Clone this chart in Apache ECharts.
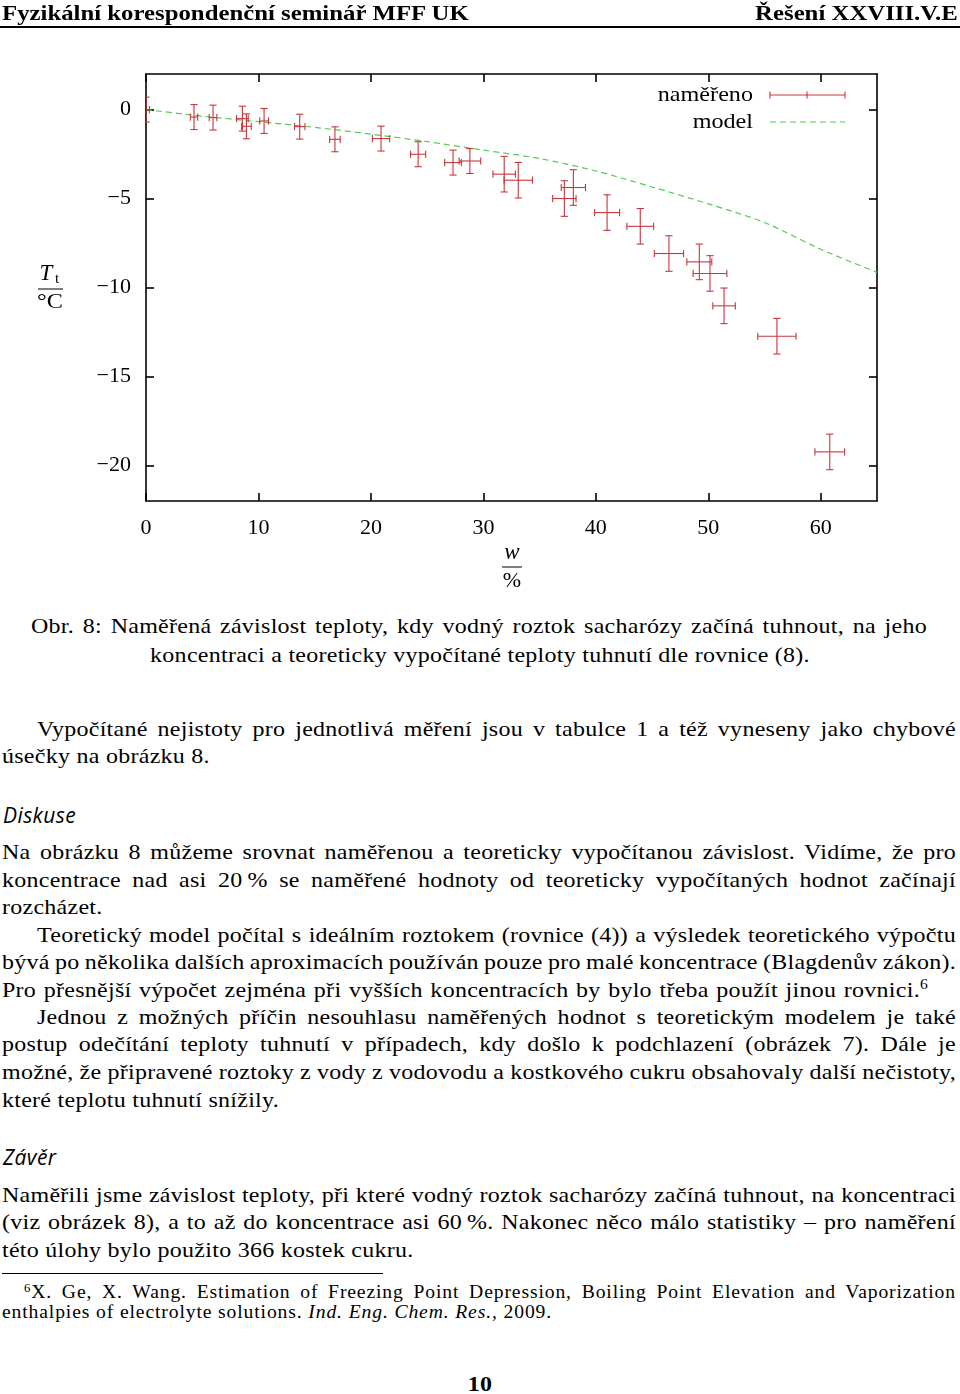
<!DOCTYPE html>
<html>
<head>
<meta charset="utf-8">
<script src="https://cdn.jsdelivr.net/npm/echarts@6/dist/echarts.min.js"></script>
<style>
html,body{margin:0;padding:0;background:#fff;}
body{width:960px;height:1394px;position:relative;overflow:hidden;}
#chart{position:absolute;left:0;top:0;width:960px;height:610px;}
.ln{position:absolute;font-family:'Liberation Serif',serif;font-size:22px;line-height:28px;height:28px;white-space:nowrap;color:#000;letter-spacing:0.25px;transform:scaleX(1.09);transform-origin:0 0;}
.j{text-align:justify;text-align-last:justify;word-spacing:-4px;}
.c{text-align:center;}
.hd{position:absolute;font-family:'Liberation Serif',serif;font-weight:bold;font-size:21px;line-height:28px;white-space:nowrap;transform:scaleX(1.18);}
.h{position:absolute;font-family:'Open Sans','Noto Sans',sans-serif;font-style:italic;font-size:21px;line-height:28px;height:28px;color:#000;letter-spacing:0.4px;}
.fn{font-size:18px;line-height:22px;height:22px;letter-spacing:0.8px;}
sup{font-size:0.65em;line-height:0;vertical-align:0.55em;}
.rule{position:absolute;background:#000;}
</style>
</head>
<body>
<div id="chart"></div>

<div class="hd" style="left:2px;top:-1px;transform-origin:0 0;">Fyzikální korespondenční seminář MFF UK</div>
<div class="hd" style="right:2px;top:-1px;transform-origin:100% 0;">Řešení XXVIII.V.E</div>
<div class="rule" style="left:0;top:26px;width:960px;height:1.6px;"></div>

<div class="ln j" style="left:31px;width:calc(896px / 1.09);top:612px;">Obr. 8: Naměřená závislost teploty, kdy vodný roztok sacharózy začíná tuhnout, na jeho</div>
<div class="ln c" style="left:0;width:calc(960px / 1.09);top:641px;">koncentraci a teoreticky vypočítané teploty tuhnutí dle rovnice (8).</div>

<div class="ln j" style="left:37px;width:calc(919px / 1.09);top:715px;">Vypočítané nejistoty pro jednotlivá měření jsou v tabulce 1 a též vyneseny jako chybové</div>
<div class="ln" style="left:2px;top:742px;">úsečky na obrázku 8.</div>

<div class="h" style="left:3px;top:801px;">Diskuse</div>

<div class="ln j" style="left:2px;width:calc(954px / 1.09);top:838px;">Na obrázku 8 můžeme srovnat naměřenou a teoreticky vypočítanou závislost. Vidíme, že pro</div>
<div class="ln j" style="left:2px;width:calc(954px / 1.09);top:866px;">koncentrace nad asi 20&#8201;% se naměřené hodnoty od teoreticky vypočítaných hodnot začínají</div>
<div class="ln" style="left:2px;top:893px;">rozcházet.</div>
<div class="ln j" style="left:37px;width:calc(919px / 1.09);top:921px;">Teoretický model počítal s ideálním roztokem (rovnice (4)) a výsledek teoretického výpočtu</div>
<div class="ln j" style="left:2px;width:calc(954px / 1.09);top:948px;">bývá po několika dalších aproximacích používán pouze pro malé koncentrace (Blagdenův zákon).</div>
<div class="ln j" style="left:2px;width:calc(926px / 1.09);top:976px;">Pro přesnější výpočet zejména při vyšších koncentracích by bylo třeba použít jinou rovnici.<sup>6</sup></div>
<div class="ln j" style="left:37px;width:calc(919px / 1.09);top:1003px;">Jednou z možných příčin nesouhlasu naměřených hodnot s teoretickým modelem je také</div>
<div class="ln j" style="left:2px;width:calc(954px / 1.09);top:1030px;">postup odečítání teploty tuhnutí v případech, kdy došlo k podchlazení (obrázek 7). Dále je</div>
<div class="ln j" style="left:2px;width:calc(954px / 1.09);top:1058px;">možné, že připravené roztoky z vody z vodovodu a kostkového cukru obsahovaly další nečistoty,</div>
<div class="ln" style="left:2px;top:1086px;">které teplotu tuhnutí snížily.</div>

<div class="h" style="left:3px;top:1143px;">Závěr</div>

<div class="ln j" style="left:2px;width:calc(954px / 1.09);top:1181px;">Naměřili jsme závislost teploty, při které vodný roztok sacharózy začíná tuhnout, na koncentraci</div>
<div class="ln j" style="left:2px;width:calc(954px / 1.09);top:1208px;">(viz obrázek 8), a to až do koncentrace asi 60&#8201;%. Nakonec něco málo statistiky – pro naměření</div>
<div class="ln" style="left:2px;top:1236px;">této úlohy bylo použito 366 kostek cukru.</div>

<div class="rule" style="left:2px;top:1273px;width:381px;height:1px;"></div>
<div class="ln j fn" style="left:24px;width:calc(932px / 1.09);top:1281px;"><sup>6</sup>X. Ge, X. Wang. Estimation of Freezing Point Depression, Boiling Point Elevation and Vaporization</div>
<div class="ln fn" style="left:2px;top:1301px;">enthalpies of electrolyte solutions. <i>Ind. Eng. Chem. Res.</i>, 2009.</div>

<div class="ln c" style="left:0;width:calc(960px / 1.09);top:1370px;font-weight:bold;">10</div>

<script>
// measured points: concentration w [%], freezing temperature T [°C], uncertainties
const wMeas  = [0, 4.27, 5.96, 8.57, 8.93, 10.5, 13.67, 16.8, 20.9, 24.2, 27.3, 28.8, 31.85, 33.1, 37.2, 38.0, 41.0, 43.95, 46.5, 49.2, 50.15, 51.4, 56.1, 60.8];
const tMeas  = [0, -0.42, -0.45, -0.51, -0.94, -0.64, -0.96, -1.67, -1.63, -2.51, -2.98, -2.89, -3.63, -3.97, -5.0, -4.38, -5.79, -6.56, -8.09, -8.56, -9.21, -11.03, -12.74, -19.24];
const dwMeas = [0.3, 0.33, 0.34, 0.52, 0.43, 0.39, 0.46, 0.47, 0.77, 0.67, 0.74, 0.96, 1.0, 1.26, 1.04, 1.08, 1.11, 1.19, 1.3, 1.11, 1.5, 1.0, 1.7, 1.32];
const dtMeas = [0.7, 0.7, 0.7, 0.7, 0.7, 0.7, 0.7, 0.7, 0.7, 0.7, 0.7, 0.7, 1.0, 1.0, 1.0, 1.0, 1.0, 1.0, 1.0, 1.0, 1.0, 1.0, 1.0, 1.0];

// model curve
const wModel = [0, 5, 10, 15, 20, 25, 30, 35, 40, 45, 50, 55, 60, 65];
const tModel = [0, -0.37, -0.68, -1.0, -1.38, -1.8, -2.28, -2.75, -3.45, -4.35, -5.3, -6.35, -7.85, -9.15];

// axis ticks
const xTicks = [0, 10, 20, 30, 40, 50, 60];
const yTicks = [-20, -15, -10, -5, 0];

const seriesNames = ['naměřeno', 'model'];

const RED = '#c8363c';
const GREEN = '#55c955';
const FONT = "'Liberation Serif', serif";

const measData = wMeas.map((w, i) => [w, tMeas[i], dwMeas[i], dtMeas[i]]);
const modelData = wModel.map((w, i) => [w, tModel[i]]);

function fmt(v) { return v < 0 ? '\u2212' + (-v) : String(v); }

function renderErr(params, api) {
  const w = api.value(0), t = api.value(1), dw = api.value(2), dt = api.value(3);
  const l = api.coord([w - dw, t]);
  const r = api.coord([w + dw, t]);
  const tp = api.coord([w, t + dt]);
  const bt = api.coord([w, t - dt]);
  const cap = 3.6;
  const st = { stroke: RED, lineWidth: 1.1 };
  const L = (x1, y1, x2, y2) => ({ type: 'line', shape: { x1, y1, x2, y2 }, style: st });
  return {
    type: 'group',
    children: [
      L(l[0], l[1], r[0], r[1]),
      L(tp[0], tp[1], bt[0], bt[1]),
      L(l[0], l[1] - cap, l[0], l[1] + cap),
      L(r[0], r[1] - cap, r[0], r[1] + cap),
      L(tp[0] - cap, tp[1], tp[0] + cap, tp[1]),
      L(bt[0] - cap, bt[1], bt[0] + cap, bt[1])
    ]
  };
}

const axisLineStyle = { color: '#000', width: 1.6 };
function xAx(pos, labels) {
  return {
    type: 'value', min: 0, max: 65, position: pos,
    axisLine: { show: true, onZero: false, lineStyle: axisLineStyle },
    axisTick: { show: true, inside: true, length: 8, customValues: xTicks, lineStyle: axisLineStyle },
    axisLabel: { show: labels, customValues: xTicks, margin: 16, fontFamily: FONT, fontSize: 22, color: '#000', formatter: fmt },
    splitLine: { show: false }
  };
}
function yAx(pos, labels) {
  return {
    type: 'value', min: -22, max: 2, position: pos,
    axisLine: { show: true, onZero: false, lineStyle: axisLineStyle },
    axisTick: { show: true, inside: true, length: 8, customValues: yTicks, lineStyle: axisLineStyle },
    axisLabel: { show: labels, customValues: yTicks, margin: 15, fontFamily: FONT, fontSize: 22, color: '#000', formatter: fmt },
    splitLine: { show: false }
  };
}

const chart = echarts.init(document.getElementById('chart'), null, { renderer: 'canvas' });
chart.setOption({
  animation: false,
  backgroundColor: 'transparent',
  grid: { left: 146, top: 74, width: 731, height: 427 },
  xAxis: [xAx('bottom', true), xAx('top', false)],
  yAxis: [yAx('left', true), yAx('right', false)],
  series: [
    {
      name: seriesNames[0], type: 'custom', xAxisIndex: 0, yAxisIndex: 0,
      clip: true, renderItem: renderErr, data: measData,
      encode: { x: 0, y: 1 }, z: 3
    },
    {
      name: seriesNames[1], type: 'line', xAxisIndex: 0, yAxisIndex: 0,
      data: modelData, smooth: 0.3, showSymbol: false, clip: true,
      lineStyle: { color: GREEN, width: 1.2, type: [6, 4] }, z: 2
    }
  ],
  graphic: [
    // y axis name  T_t / °C
    { type: 'text', x: 46, y: 274, style: { text: 'T', font: "italic 23px " + FONT, fill: '#000', textAlign: 'center', textVerticalAlign: 'middle' } },
    { type: 'text', x: 57, y: 279, style: { text: 't', font: "15px " + FONT, fill: '#000', textAlign: 'center', textVerticalAlign: 'middle' } },
    { type: 'line', shape: { x1: 38, y1: 289, x2: 63, y2: 289 }, style: { stroke: '#000', lineWidth: 1 } },
    { type: 'text', x: 50, y: 302, scaleX: 1.1, style: { text: '\u00b0C', font: "22px " + FONT, fill: '#000', textAlign: 'center', textVerticalAlign: 'middle' } },
    // x axis name  w / %
    { type: 'text', x: 512, y: 553, style: { text: 'w', font: "italic 23px " + FONT, fill: '#000', textAlign: 'center', textVerticalAlign: 'middle' } },
    { type: 'line', shape: { x1: 502, y1: 567, x2: 522, y2: 567 }, style: { stroke: '#000', lineWidth: 1 } },
    { type: 'text', x: 512, y: 581, style: { text: '%', font: "22px " + FONT, fill: '#000', textAlign: 'center', textVerticalAlign: 'middle' } },
    // legend
    { type: 'text', x: 753, y: 95, scaleX: 1.15, style: { text: seriesNames[0], font: "21px " + FONT, fill: '#000', textAlign: 'right', textVerticalAlign: 'middle' } },
    { type: 'text', x: 753, y: 122, scaleX: 1.15, style: { text: seriesNames[1], font: "21px " + FONT, fill: '#000', textAlign: 'right', textVerticalAlign: 'middle' } },
    { type: 'line', shape: { x1: 770, y1: 95, x2: 845, y2: 95 }, style: { stroke: RED, lineWidth: 1.1 } },
    { type: 'line', shape: { x1: 770, y1: 91.4, x2: 770, y2: 98.6 }, style: { stroke: RED, lineWidth: 1.1 } },
    { type: 'line', shape: { x1: 845, y1: 91.4, x2: 845, y2: 98.6 }, style: { stroke: RED, lineWidth: 1.1 } },
    { type: 'line', shape: { x1: 807, y1: 91.4, x2: 807, y2: 98.6 }, style: { stroke: RED, lineWidth: 1.1 } },
    { type: 'line', shape: { x1: 770, y1: 122, x2: 845, y2: 122 }, style: { stroke: GREEN, lineWidth: 1.2, lineDash: [6, 4] } }
  ]
});
</script>
</body>
</html>
